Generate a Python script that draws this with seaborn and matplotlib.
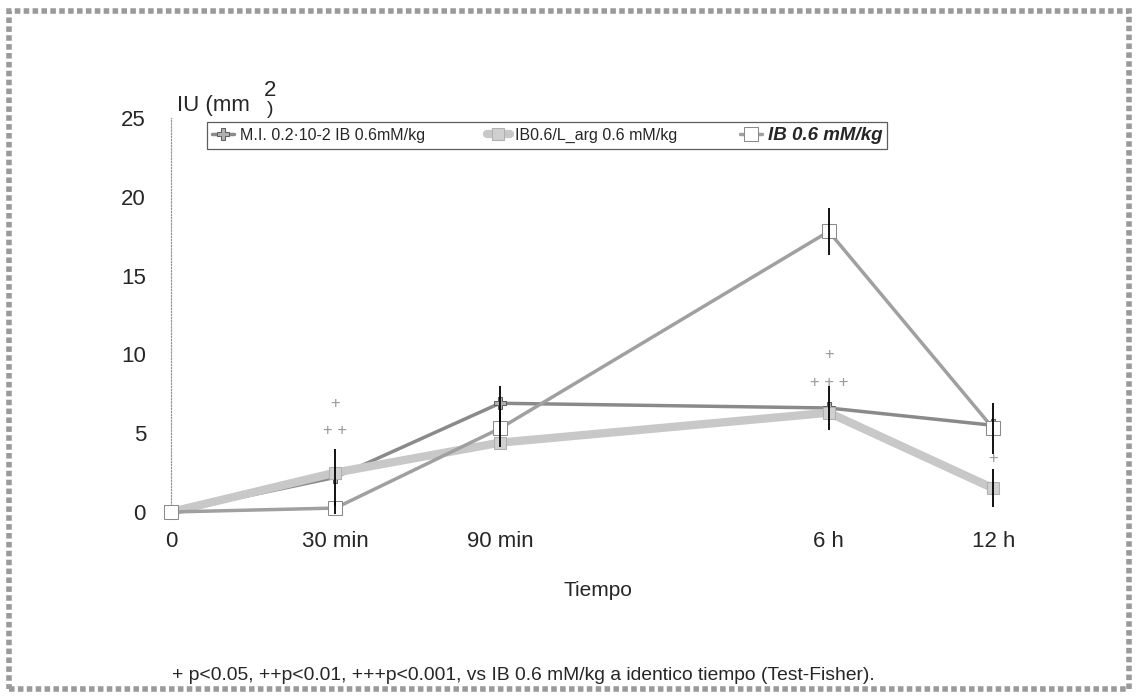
import numpy as np
import pandas as pd
import matplotlib
matplotlib.use("Agg")
import matplotlib.pyplot as plt
import seaborn as sns
from matplotlib.patches import Rectangle

sns.set_theme(style="white")
plt.rcParams["font.family"] = ["Liberation Sans", "DejaVu Sans"]

# ------------------------------------------------------------------
# data
# ------------------------------------------------------------------
tick_labels = ["0", "30 min", "90 min", "6 h", "12 h"]
x_pos = [0, 1, 2, 4, 5]
series_names = ["M.I. 0.2·10-2 IB 0.6mM/kg", "IB0.6/L_arg 0.6 mM/kg", "IB 0.6 mM/kg"]
mi_vals = [0.0, 2.2, 6.9, 6.6, 5.5]
larg_vals = [0.0, 2.5, 4.4, 6.3, 1.5]
ib_vals = [0.0, 0.25, 5.3, 17.8, 5.3]
mi_err = [0.0, 1.8, 1.1, 1.4, 0.0]
larg_err = [0.0, 0.0, 0.0, 0.0, 1.2]
ib_err = [0.0, 0.4, 1.2, 1.5, 1.6]
sig_x = [1, 1, 4, 4, 5]
sig_y = [6.9, 5.2, 10.0, 8.2, 3.4]
sig_txt = ["+", "+ +", "+", "+ + +", "+"]

# ------------------------------------------------------------------
# figure
# ------------------------------------------------------------------
W, H = 1137, 696
fig = plt.figure(figsize=(W / 100, H / 100), dpi=100)
fig.patch.set_facecolor("white")
ax = fig.add_axes([171 / W, 1 - 512 / H, 888 / W, (512 - 118) / H])

styles = [
    dict(color="#8a8a8a", lw=2.5, marker="P", ms=8, mfc="#b0b0b0", mec="#606060"),
    dict(color="#c8c8c8", lw=6, marker="s", ms=8, mfc="#d0d0d0", mec="#b0b0b0"),
    dict(color="#a0a0a0", lw=2.5, marker="s", ms=10, mfc="white", mec="#8a8a8a"),
]
all_vals = [mi_vals, larg_vals, ib_vals]
all_err = [mi_err, larg_err, ib_err]

draw_order = [1, 0, 2]
for i in draw_order:
    st = styles[i]
    sns.lineplot(x=x_pos, y=all_vals[i], ax=ax, label=series_names[i],
                 color=st["color"], linewidth=st["lw"], marker=st["marker"],
                 markersize=st["ms"], markerfacecolor=st["mfc"],
                 markeredgecolor=st["mec"], clip_on=False, zorder=3 + i)

for i in range(3):
    ax.errorbar(x_pos, all_vals[i], yerr=all_err[i], fmt="none",
                ecolor="black", elinewidth=1.3, capsize=0, zorder=10, clip_on=False)

for x, y, t in zip(sig_x, sig_y, sig_txt):
    ax.text(x, y, t, ha="center", va="center", fontsize=12, color="#9a9a9a")

ax.set_xlim(0, 5.4)
ax.set_ylim(0, 25)
ax.set_xticks(x_pos)
ax.set_xticklabels(tick_labels, fontsize=16)
ax.set_yticks([0, 5, 10, 15, 20, 25])
ax.set_yticklabels(["0", "5", "10", "15", "20", "25"], fontsize=16)
ax.tick_params(axis="x", length=0, pad=14)
ax.tick_params(axis="y", length=8, width=0.8, color="#aaaaaa", pad=10, direction="out")
for s in ["top", "right", "bottom"]:
    ax.spines[s].set_visible(False)
ax.spines["left"].set_color("#999999")
ax.spines["left"].set_linestyle((0, (1, 1.5)))
ax.spines["left"].set_linewidth(0.9)
ax.set_xlabel("")
ax.set_ylabel("")

# legend (order as in original)
handles, labels = ax.get_legend_handles_labels()
hmap = dict(zip(labels, handles))
leg = ax.legend([hmap[n] for n in series_names], series_names, ncol=3,
                loc="upper left", bbox_to_anchor=(207 / W, 1 - 122 / H),
                bbox_transform=fig.transFigure, fontsize=11.5,
                frameon=True, fancybox=False, edgecolor="#333333", borderpad=0.3,
                handlelength=1.4, handletextpad=0.35, columnspacing=3.9,
                borderaxespad=0)
leg.get_frame().set_linewidth(0.9)
leg.get_texts()[2].set_fontweight("bold")
leg.get_texts()[2].set_fontstyle("italic")
leg.get_texts()[2].set_fontsize(13.5)

# y-axis title "IU (mm2)"
fig.text(177 / W, 1 - 106 / H, "IU (mm", fontsize=16, ha="left", va="center")
fig.text(270 / W, 1 - 91 / H, "2", fontsize=16, ha="center", va="center")
fig.text(270 / W, 1 - 110 / H, ")", fontsize=14, ha="center", va="center")

fig.text(598 / W, 1 - 590 / H, "Tiempo", fontsize=15, ha="center", va="center")
fig.text(172 / W, 1 - 676 / H,
         "+ p<0.05, ++p<0.01, +++p<0.001, vs IB 0.6 mM/kg a identico tiempo (Test-Fisher).",
         fontsize=13.9, ha="left", va="center")

# outer border
fig.patches.append(Rectangle((9 / W, 7 / H), 1120 / W, 678 / H, transform=fig.transFigure,
                             fill=False, edgecolor="#9a9a9a", linewidth=4,
                             linestyle=(0, (1, 0.6))))

fig.savefig("out.png", dpi=100)
